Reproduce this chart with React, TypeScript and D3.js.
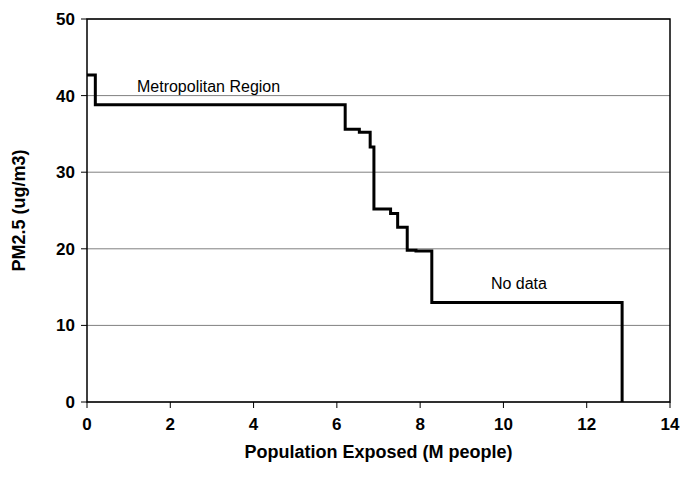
import * as d3 from 'd3'

const W = 692, H = 485
const M = {top: 19, right: 22, bottom: 83, left: 87}

// step points: [population (M), pm2.5] — value holds until next x
const stepX = [0, 0.2, 6.2, 6.54, 6.8, 6.89, 7.29, 7.46, 7.69, 7.9, 8.28, 12.85]
const stepY = [42.7, 38.8, 35.6, 35.2, 33.3, 25.2, 24.6, 22.8, 19.8, 19.7, 13.0, 0]
const xTicks = [0, 2, 4, 6, 8, 10, 12, 14]
const yTicks = [0, 10, 20, 30, 40, 50]

export default function App() {
  const bw = W - M.left - M.right
  const bh = H - M.top - M.bottom
  const x = d3.scaleLinear().domain([0, 14]).range([0, bw])
  const y = d3.scaleLinear().domain([0, 50]).range([bh, 0])
  const pts: [number, number][] = stepX.map((v, i) => [v, stepY[i]])
  const line = d3.line<[number, number]>().x(d => x(d[0])).y(d => y(d[1])).curve(d3.curveStepAfter)
  const font = 'Arial, "Liberation Sans", sans-serif'
  return (
    <svg width={W} height={H} style={{position: 'absolute', left: 0, top: 0}} fontFamily={font}>
      <g transform={`translate(${M.left},${M.top})`}>
        {yTicks.map(t => (
          <g key={t}>
            <line x1={0} x2={bw} y1={y(t)} y2={y(t)} stroke="#808080" strokeWidth={1} />
            <line x1={-6} x2={0} y1={y(t)} y2={y(t)} stroke="#000" />
            <text x={-12} y={y(t)} dy="0.35em" textAnchor="end" fontSize={17} fontWeight="bold">{t}</text>
          </g>
        ))}
        {xTicks.map(t => (
          <g key={t}>
            <line x1={x(t)} x2={x(t)} y1={bh} y2={bh + 6} stroke="#000" />
            <text x={x(t)} y={bh + 28} textAnchor="middle" fontSize={17} fontWeight="bold">{t}</text>
          </g>
        ))}
        <rect x={0} y={0} width={bw} height={bh} fill="none" stroke="#000" strokeWidth={1.5} />
        <path d={line(pts) || ''} fill="none" stroke="#000" strokeWidth={3} />
        <text x={x(1.2)} y={y(40.5)} fontSize={16}>Metropolitan Region</text>
        <text x={x(9.7)} y={y(14.8)} fontSize={16}>No data</text>
        <text x={bw / 2} y={bh + 56} textAnchor="middle" fontSize={18} fontWeight="bold">Population Exposed (M people)</text>
        <text transform={`translate(${-62},${bh / 2}) rotate(-90)`} textAnchor="middle" fontSize={18} fontWeight="bold">PM2.5 (ug/m3)</text>
      </g>
    </svg>
  )
}
